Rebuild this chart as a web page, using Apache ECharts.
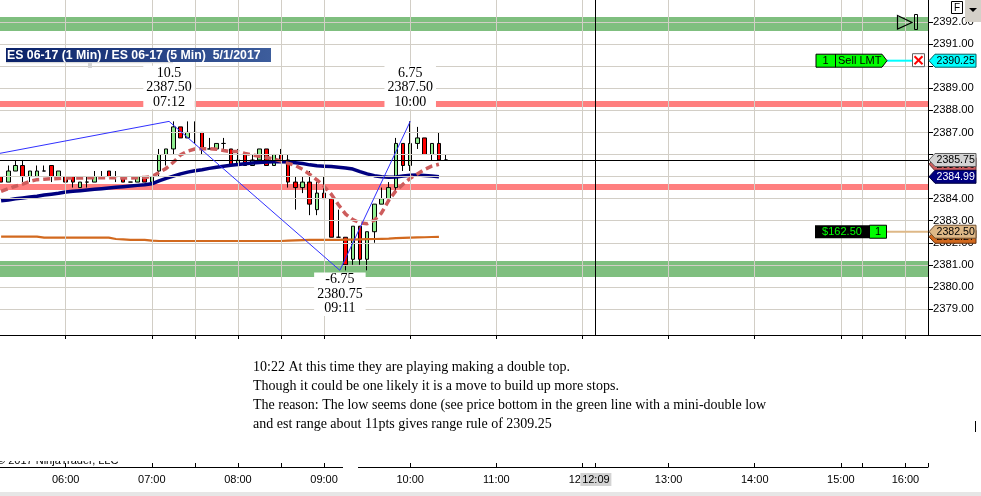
<!DOCTYPE html>
<html><head><meta charset="utf-8">
<script src="https://cdn.jsdelivr.net/npm/echarts@6/dist/echarts.min.js"></script>
<style>html,body{margin:0;padding:0;background:#fff}#c{width:981px;height:496px}</style>
</head><body><div id="c"></div>
<script>
// ---------- data ----------
const barStart = '05:15', barStepMin = 5;
const opens = [
2385.00,2384.75,2385.25,2385.50,2385.00,2385.00,2385.25,2385.50,2385.00,2385.00,
2385.00,2384.50,2384.75,2384.75,2385.00,2385.25,2385.00,2385.00,2384.75,2384.75,
2385.00,2384.75,2385.25,2386.00,2386.25,2387.25,2386.75,2387.00,2387.00,2386.25,
2386.25,2386.50,2386.25,2385.50,2386.00,2385.50,2385.75,2386.25,2385.50,2386.00,
2385.75,2384.75,2384.50,2384.75,2383.50,2384.25,2384.00,2382.25,2382.25,2381.25,
2382.75,2381.25,2382.50,2383.75,2384.00,2384.50,2386.50,2385.50,2386.50,2386.75,
2386.00,2386.50,2385.75];
const highs = [
2385.00,2385.50,2385.75,2385.75,2385.25,2385.50,2385.50,2385.50,2385.25,2385.25,
2385.00,2384.75,2385.00,2385.25,2385.25,2385.25,2385.25,2385.00,2384.75,2385.00,
2385.00,2385.00,2386.25,2386.25,2387.50,2387.25,2387.50,2387.50,2387.00,2386.75,
2386.50,2386.75,2386.25,2386.25,2386.00,2386.00,2386.25,2386.25,2386.00,2386.25,
2386.00,2385.00,2385.00,2385.25,2384.75,2385.00,2384.00,2383.50,2382.25,2382.75,
2382.75,2382.50,2383.75,2384.50,2384.75,2386.75,2386.50,2387.50,2387.25,2386.75,
2386.50,2387.00,2386.00];
const lows = [
2384.75,2384.75,2385.25,2384.75,2384.75,2385.00,2385.25,2384.75,2385.00,2384.75,
2384.50,2384.50,2384.50,2384.75,2385.00,2385.00,2384.75,2384.75,2384.75,2384.75,
2384.75,2384.75,2385.00,2385.50,2386.00,2386.75,2386.75,2386.50,2386.00,2386.25,
2386.25,2386.25,2385.50,2385.50,2385.50,2385.50,2385.75,2385.50,2385.50,2385.75,
2384.50,2383.50,2384.25,2383.25,2383.25,2384.00,2382.25,2382.25,2380.75,2381.00,
2381.00,2380.75,2382.00,2383.75,2384.00,2384.25,2385.25,2385.25,2386.25,2386.00,
2385.75,2385.75,2385.75];
const closes = [
2384.75,2385.25,2385.50,2385.00,2385.25,2385.25,2385.25,2385.00,2385.25,2384.75,
2384.75,2384.75,2384.75,2385.00,2385.00,2385.00,2385.00,2384.75,2384.75,2385.00,
2384.75,2385.00,2386.00,2386.25,2387.25,2386.75,2387.00,2387.00,2386.25,2386.25,
2386.50,2386.50,2385.50,2385.75,2385.50,2385.75,2386.25,2385.50,2386.00,2385.75,
2384.75,2384.50,2384.75,2383.75,2384.25,2384.00,2382.25,2382.25,2381.00,2382.75,
2381.25,2382.50,2383.75,2384.00,2384.50,2386.50,2385.50,2386.50,2386.75,2386.00,
2386.50,2385.75,2385.75];
const navyAvg = [
2383.90,2383.94,2383.99,2384.03,2384.07,2384.11,2384.16,2384.20,2384.24,2384.30,
2384.33,2384.36,2384.39,2384.42,2384.45,2384.48,2384.51,2384.54,2384.57,2384.60,
2384.63,2384.67,2384.80,2384.92,2385.02,2385.12,2385.20,2385.26,2385.31,2385.37,
2385.42,2385.47,2385.51,2385.55,2385.58,2385.61,2385.64,2385.66,2385.67,2385.67,
2385.66,2385.63,2385.59,2385.53,2385.49,2385.47,2385.45,2385.42,2385.39,2385.34,
2385.22,2385.12,2385.04,2384.99,2384.97,2384.98,2385.02,2385.06,2385.07,2385.05,
2385.02,2384.99];
const dashedAvg = [
2384.33,2384.45,2384.56,2384.66,2384.78,2384.86,2384.88,2384.90,2384.91,2384.93,
2384.93,2384.93,2384.94,2384.95,2384.95,2384.95,2384.94,2384.93,2384.93,2384.94,
2384.96,2385.00,2385.18,2385.37,2385.65,2385.98,2386.15,2386.25,2386.26,2386.26,
2386.24,2386.18,2386.13,2386.13,2386.05,2385.98,2385.92,2385.86,2385.80,2385.70,
2385.60,2385.50,2385.33,2385.10,2384.85,2384.55,2384.20,2383.72,2383.30,2383.05,
2382.90,2382.86,2383.02,2383.35,2383.92,2384.35,2384.65,2384.92,2385.12,2385.32,
2385.47,2385.56];
const orangeAvg = [
2382.28,2382.28,2382.28,2382.28,2382.28,2382.28,2382.23,2382.23,2382.23,2382.23,
2382.23,2382.23,2382.23,2382.23,2382.23,2382.23,2382.17,2382.15,2382.13,2382.13,
2382.13,2382.10,2382.08,2382.08,2382.08,2382.08,2382.08,2382.08,2382.08,2382.08,
2382.08,2382.08,2382.08,2382.08,2382.08,2382.08,2382.08,2382.08,2382.08,2382.08,
2382.10,2382.11,2382.12,2382.13,2382.13,2382.13,2382.13,2382.13,2382.14,2382.14,
2382.15,2382.16,2382.17,2382.18,2382.19,2382.21,2382.22,2382.23,2382.24,2382.25,
2382.26,2382.27];
const swingTimes  = ['05:14','07:12','09:11','10:00'];
const swingPrices = [2386.05, 2387.50, 2380.75, 2387.50];
const swingChange = [null, '10.5', '-6.75', '6.75'];
const zoneLow  = [2391.60, 2388.15, 2384.39, 2380.45];
const zoneHigh = [2392.23, 2388.42, 2384.66, 2381.17];
const zoneKind = ['green','red','red','green'];
const priceTicks = [2379,2380,2381,2382,2383,2384,2385,2386,2387,2388,2389,2390,2391,2392];
const hourLabels = ['06:00','07:00','08:00','09:00','10:00','11:00','12:00','13:00','14:00','15:00','16:00'];
const gridTimes = ['06:00','07:00','07:30','08:00','08:30','09:00','10:00','11:00','12:00','13:00','14:00','15:00','15:15','16:00'];
const crossTime = '12:09', crossPrice = 2385.75;
const sellLimitPrice = 2390.25, sellQty = 1, sellLabel = 'Sell LMT';
const positionPrice = 2382.50, positionPnL = '$162.50', positionQty = 1;
const titleText = 'ES 06-17 (1 Min) / ES 06-17 (5 Min)  5/1/2017';
const noteLines = [
 '10:22 At this time they are playing making a double top.',
 'Though it could be one likely it is a move to build up more stops.',
 'The reason: The low seems done (see price bottom in the green line with a mini-double low',
 'and est range about 11pts gives range rule of 2309.25'
];
const copyright = '\u00A9 2017 NinjaTrader, LLC';

// ---------- helpers ----------
const BREAK_START = 915, BREAK_LEN = 15; // session break 15:15-15:30 is removed from the axis
function tm(s){ const p = s.split(':').map(Number); return p[0]*60 + p[1]; }
function ax(t){ return t > BREAK_START ? t - BREAK_LEN : t; }
function fmt(v){ let t = Math.round(v > BREAK_START ? v + BREAK_LEN : v); const h = Math.floor(t/60), m = t%60; return (h<10?'0':'')+h+':'+(m<10?'0':'')+m; }
const X_MIN = 314.23, X_MAX = 960.7, Y_MIN = 2377.82, Y_MAX = 2393.0;
const SANS = '"Liberation Sans", Arial, sans-serif';
const SERIF = '"Liberation Serif", "Times New Roman", serif';

const t0 = tm(barStart);
const barX = opens.map((_, i) => ax(t0 + i*barStepMin));
const candleData = opens.map((o, i) => [barX[i], o, closes[i], lows[i], highs[i]]);
const lineData = arr => arr.map((v, i) => [barX[i], v]);
const gridVals = gridTimes.map(t => ax(tm(t)));
const hourVals = hourLabels.map(t => ax(tm(t)));
const bottomTicks = gridVals.concat([ax(tm(crossTime)), X_MAX]).sort((a,b)=>a-b);
const zoneColors = {green:'rgba(0,128,0,0.5)', red:'rgba(255,0,0,0.5)'};
const lastClose = closes[closes.length-1];
// labels hidden behind price markers
const labelHidden = v => Math.abs(v - lastClose) < 0.3 || Math.abs(v - sellLimitPrice) < 0.3;

const swingData = swingTimes.map((t, i) => {
  const item = {value: [ax(tm(t)), swingPrices[i]]};
  if (swingChange[i] !== null) {
    const up = swingPrices[i] > swingPrices[i-1];
    item.label = {show: true, position: up ? 'top' : 'bottom', distance: up ? 12 : 2,
      formatter: swingChange[i] + '\n' + swingPrices[i].toFixed(2) + '\n' + t};
  }
  return item;
});

const gridColor = '#d2cec6';
const option = {
  animation: false,
  backgroundColor: '#fff',
  grid: [
    {left: 0, top: 0, width: 928, height: 335},
    {left: 0, top: 340, width: 928, height: 127}
  ],
  xAxis: [
    {type:'value', gridIndex:0, min:X_MIN, max:X_MAX,
     axisLine:{show:true, lineStyle:{color:'#000', width:1}},
     axisTick:{show:true, customValues: gridVals, length:4, lineStyle:{color:'#000'}},
     axisLabel:{show:false}, splitLine:{show:false}},
    {type:'value', gridIndex:1, min:X_MIN, max:X_MAX,
     axisLine:{show:true, lineStyle:{color:'#000', width:1}},
     axisTick:{show:true, inside:true, customValues: bottomTicks, length:4, lineStyle:{color:'#000'}},
     axisLabel:{show:true, customValues: hourVals, formatter: v => fmt(v), margin:7,
                fontSize:11, fontFamily:SANS, color:'#000'},
     splitLine:{show:false}}
  ],
  yAxis: [
    {type:'value', gridIndex:0, position:'right', min:Y_MIN, max:Y_MAX,
     axisLine:{show:true, lineStyle:{color:'#000', width:1}},
     axisTick:{show:true, customValues: priceTicks, length:5, lineStyle:{color:'#000'}},
     axisLabel:{show:true, customValues: priceTicks, formatter: v => labelHidden(v) ? '' : v.toFixed(2), margin:5,
                fontSize:11.3, fontFamily:SANS, color:'#000'},
     splitLine:{show:false}},
    {type:'value', gridIndex:1, show:false, min:0, max:1}
  ],
  series: [
    { // grid lines
      type:'line', xAxisIndex:0, yAxisIndex:0, z:1, data:[[X_MIN, Y_MAX]], symbol:'none',
      lineStyle:{opacity:0}, silent:true,
      markLine:{silent:true, symbol:'none', animation:false, label:{show:false},
        lineStyle:{color:gridColor, width:1, type:'solid'},
        data: priceTicks.map(p => ({yAxis:p})).concat(gridVals.map(v => ({xAxis:v})))}
    },
    {
      type:'candlestick', xAxisIndex:0, yAxisIndex:0, z:2, barWidth:4,
      encode:{x:0, y:[1,2,3,4]},
      data: candleData,
      itemStyle:{color:'#90ee90', color0:'#ff0000', borderColor:'#000', borderColor0:'#000',
                 borderColorDoji:'#000', borderWidth:1}
    },
    {type:'line', xAxisIndex:0, yAxisIndex:0, z:3, data: lineData(orangeAvg), symbol:'none',
     lineStyle:{color:'#d2691e', width:2.2}},
    {type:'line', xAxisIndex:0, yAxisIndex:0, z:3, data: lineData(navyAvg), symbol:'none',
     lineStyle:{color:'#000080', width:3.5}},
    {type:'line', xAxisIndex:0, yAxisIndex:0, z:3, data: lineData(dashedAvg), symbol:'none',
     lineStyle:{color:'#cd5c5c', width:3.5, type:[7,4]}},
    { // zones
      type:'line', xAxisIndex:0, yAxisIndex:0, z:5, data:[[X_MIN, Y_MAX]], symbol:'none',
      lineStyle:{opacity:0}, silent:true,
      markArea:{silent:true, label:{show:false},
        data: zoneLow.map((l, i) => [{yAxis:l, itemStyle:{color: zoneColors[zoneKind[i]]}}, {yAxis: zoneHigh[i]}])}
    },
    { // crosshair
      type:'line', xAxisIndex:0, yAxisIndex:0, z:6, data:[[X_MIN, Y_MAX]], symbol:'none',
      lineStyle:{opacity:0}, silent:true,
      markLine:{silent:true, symbol:'none', animation:false, label:{show:false},
        lineStyle:{color:'#000', width:1, type:'solid'},
        data:[{yAxis: crossPrice}, {xAxis: ax(tm(crossTime))}]}
    },
    { // swing zigzag
      type:'line', xAxisIndex:0, yAxisIndex:0, z:7, data: swingData,
      symbol:'circle', symbolSize:0.1, showSymbol:true, itemStyle:{color:'rgba(0,0,0,0)'},
      lineStyle:{color:'#3030ff', width:1},
      label:{show:false, fontFamily:SERIF, fontSize:14, lineHeight:14.5, color:'#000',
             backgroundColor:'#fff', padding:[0,3], align:'center'}
    }
  ]
};

const chart = echarts.init(document.getElementById('c'), null, {renderer:'canvas'});
chart.setOption(option);

// ---------- overlays (positions from the chart scales) ----------
const py = v => chart.convertToPixel({yAxisIndex:0}, v);
const px = v => chart.convertToPixel({xAxisIndex:1}, v);
const AXX = 928;
function flag(y, fill, stroke, txt, text, z){
  return [
    {type:'polygon', z, shape:{points:[[AXX+1,y],[AXX+7,y-6.5],[976,y-6.5],[976,y+6.5],[AXX+7,y+6.5]]},
     style:{fill, stroke, lineWidth:1}},
    {type:'text', z, x:AXX+8.5, y:y+0.5, style:{text, fill:txt, fontSize:10.6, fontFamily:SANS, verticalAlign:'middle'}}
  ];
}
const g = [];
// title bar
g.push({type:'rect', z:20, shape:{x:6, y:48, width:265, height:14},
  style:{fill:new echarts.graphic.LinearGradient(0,0,1,0,[{offset:0,color:'#0a2168'},{offset:1,color:'#3d5d9c'}])}});
g.push({type:'text', z:21, x:7, y:55.5, style:{text:titleText, fill:'#fff', fontSize:12.3, fontWeight:'bold', fontFamily:SANS, verticalAlign:'middle'}});
g.push({type:'rect', z:20, shape:{x:6, y:62, width:167, height:1.2}, style:{fill:'#dcdcdc'}});
g.push({type:'rect', z:20, shape:{x:88, y:63, width:4, height:5}, style:{fill:'#d4d4d4'}});
// price flags
g.push(...flag(py(dashedAvg[dashedAvg.length-1]), '#cd5c5c', '#603030', '#000', dashedAvg[dashedAvg.length-1].toFixed(2), 30));
g.push(...flag(py(navyAvg[navyAvg.length-1]), '#000080', '#000040', '#fff', navyAvg[navyAvg.length-1].toFixed(2), 31));
g.push(...flag(py(lastClose), '#d3d3d3', '#606060', '#000', lastClose.toFixed(2), 32));
g.push(...flag(py(orangeAvg[orangeAvg.length-1]), '#d2691e', '#603010', '#000', orangeAvg[orangeAvg.length-1].toFixed(2), 30));
g.push(...flag(py(positionPrice), '#deb887', '#705030', '#000', positionPrice.toFixed(2), 31));
const ySell = py(sellLimitPrice);
g.push(...flag(ySell, '#00ffff', '#006060', '#000', sellLimitPrice.toFixed(2), 31));
// sell limit order box
g.push({type:'line', z:25, shape:{x1:887, y1:ySell, x2:912, y2:ySell}, style:{stroke:'#00ffff', lineWidth:2}});
g.push({type:'polygon', z:26, shape:{points:[[816,ySell-6.5],[882,ySell-6.5],[887,ySell],[882,ySell+6.5],[816,ySell+6.5]]}, style:{fill:'#00ff00', stroke:'#000', lineWidth:1}});
g.push({type:'line', z:27, shape:{x1:835.5, y1:ySell-6.5, x2:835.5, y2:ySell+6.5}, style:{stroke:'#000', lineWidth:1}});
g.push({type:'text', z:27, x:825.5, y:ySell+0.5, style:{text:String(sellQty), fill:'#000', fontSize:11, fontFamily:SANS, align:'center', verticalAlign:'middle'}});
g.push({type:'text', z:27, x:838, y:ySell+0.5, style:{text:sellLabel, fill:'#000', fontSize:11, fontFamily:SANS, verticalAlign:'middle'}});
g.push({type:'rect', z:26, shape:{x:912.5, y:ySell-7, width:12, height:13}, style:{fill:'#fff', stroke:'#606060', lineWidth:1}});
g.push({type:'line', z:27, shape:{x1:914.5, y1:ySell-4.5, x2:922.5, y2:ySell+3.5}, style:{stroke:'#ff0000', lineWidth:2}});
g.push({type:'line', z:27, shape:{x1:922.5, y1:ySell-4.5, x2:914.5, y2:ySell+3.5}, style:{stroke:'#ff0000', lineWidth:2}});
// position box
const yPos = py(positionPrice);
g.push({type:'line', z:25, shape:{x1:887, y1:yPos, x2:928, y2:yPos}, style:{stroke:'#deb887', lineWidth:2}});
g.push({type:'rect', z:26, shape:{x:815, y:yPos-6.5, width:54, height:13}, style:{fill:'#000'}});
g.push({type:'text', z:27, x:842, y:yPos+0.5, style:{text:positionPnL, fill:'#00ff00', fontSize:11, fontFamily:SANS, align:'center', verticalAlign:'middle'}});
g.push({type:'rect', z:26, shape:{x:869.5, y:yPos-6.5, width:17, height:13}, style:{fill:'#00ff00', stroke:'#000', lineWidth:1}});
g.push({type:'text', z:27, x:878, y:yPos+0.5, style:{text:String(positionQty), fill:'#000', fontSize:11, fontFamily:SANS, align:'center', verticalAlign:'middle'}});
// top-right controls
g.push({type:'polygon', z:25, shape:{points:[[897.5,15.5],[912,22.5],[897.5,29]]}, style:{fill:'none', stroke:'#000', lineWidth:1.2}});
g.push({type:'rect', z:25, shape:{x:914.5, y:14.5, width:3, height:15}, style:{fill:'none', stroke:'#000', lineWidth:1}});
g.push({type:'rect', z:25, shape:{x:951.5, y:1.5, width:11, height:12}, style:{fill:'#fff', stroke:'#000', lineWidth:1}});
g.push({type:'text', z:26, x:957, y:8, style:{text:'F', fill:'#000', fontSize:10, fontFamily:SANS, align:'center', verticalAlign:'middle'}});
g.push({type:'rect', z:25, shape:{x:965, y:0, width:16, height:22}, style:{fill:'#d4d0c8'}});
g.push({type:'polygon', z:26, shape:{points:[[969,8],[977,8],[973,12]]}, style:{fill:'#000'}});
// panel separator extension
g.push({type:'line', z:25, shape:{x1:928, y1:335.5, x2:981, y2:335.5}, style:{stroke:'#000', lineWidth:1}});
// note text
g.push({type:'text', z:25, x:253, y:357.5, style:{text:noteLines.join('\n'), fill:'#000', fontSize:14, fontFamily:SERIF, lineHeight:19, verticalAlign:'top'}});
// copyright (mostly hidden)
g.push({type:'text', z:24, x:-3, y:455, style:{text:copyright, fill:'#000', fontSize:11, fontFamily:SANS, verticalAlign:'top'}});
g.push({type:'rect', z:24.5, shape:{x:0, y:440, width:130, height:21}, style:{fill:'#fff'}});
g.push({type:'rect', z:25, shape:{x:343, y:465, width:15, height:4}, style:{fill:'#fff'}});
g.push({type:'line', z:25, shape:{x1:975.5, y1:421, x2:975.5, y2:432}, style:{stroke:'#000', lineWidth:1}});
// crosshair time label
const xc = px(ax(tm(crossTime)));
g.push({type:'rect', z:26, shape:{x:xc-15, y:473, width:31, height:13}, style:{fill:'#d3d3d3'}});
g.push({type:'text', z:27, x:xc+0.5, y:480, style:{text:crossTime, fill:'#000', fontSize:11, fontFamily:SANS, align:'center', verticalAlign:'middle'}});
// bottom strip
g.push({type:'rect', z:20, shape:{x:0, y:492, width:981, height:4}, style:{fill:'#e6e6e6'}});
chart.setOption({graphic: g});
</script></body></html>
